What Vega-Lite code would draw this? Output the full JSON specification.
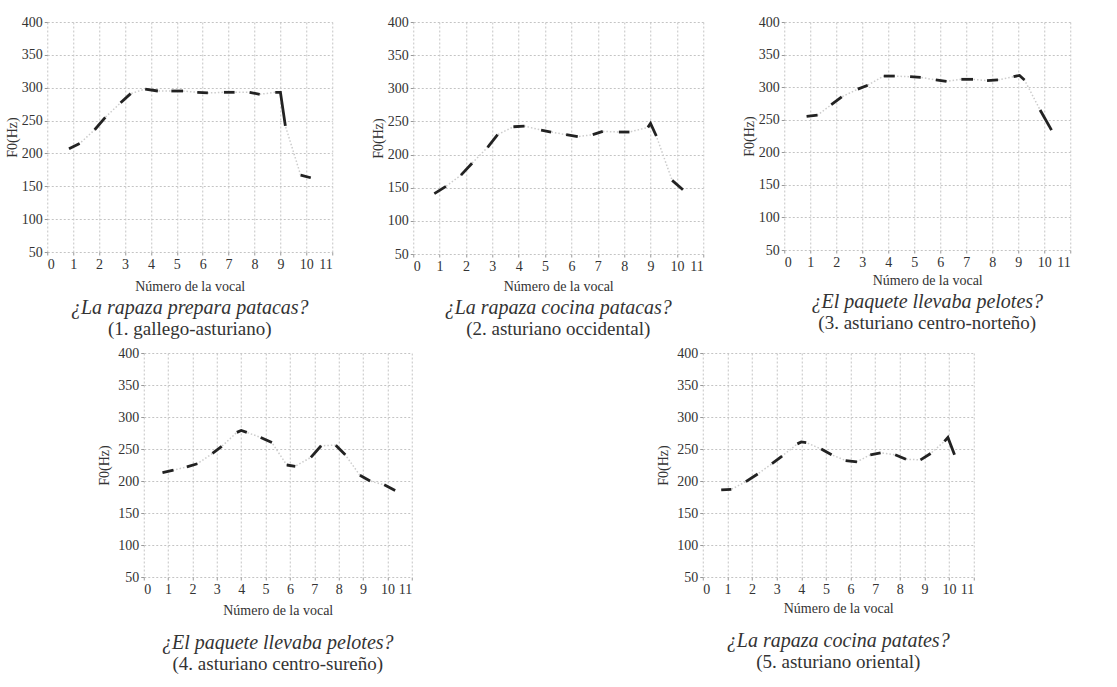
{
  "$schema": "https://vega.github.io/schema/vega-lite/v6.json",
  "background": "white",
  "padding": {"left": 5, "top": 15, "right": 5, "bottom": 5},
  "config": {
    "font": "Liberation Serif",
    "view": {"stroke": null},
    "axis": {
      "labelFont": "Liberation Serif", "labelFontSize": 14, "labelColor": "#333",
      "titleFont": "Liberation Serif", "titleFontSize": 14, "titleFontWeight": "normal", "titleColor": "#333",
      "grid": true, "gridColor": "#c4c4c4", "gridDash": [2, 2], "gridWidth": 1,
      "domain": false, "ticks": true, "tickSize": 3, "tickColor": "#999",
      "labelPadding": 2, "titlePadding": 2
    },
    "axisX": {"titlePadding": 8},
    "title": {
      "font": "Liberation Serif", "fontSize": 20, "fontStyle": "italic", "fontWeight": "normal", "color": "#333",
      "subtitleFont": "Liberation Serif", "subtitleFontSize": 19, "subtitleColor": "#333", "subtitlePadding": 2,
      "orient": "bottom", "anchor": "middle", "frame": "group", "offset": 5
    },
    "concat": {"spacing": 38}
  },
  "datasets": {
    "f0": [
      {"p": 1, "v": 1, "o": 1, "x": 0.84, "f0": 207}, {"p": 1, "v": 1, "o": 2, "x": 1.25, "f0": 215},
      {"p": 1, "v": 2, "o": 3, "x": 1.83, "f0": 236}, {"p": 1, "v": 2, "o": 4, "x": 2.24, "f0": 255},
      {"p": 1, "v": 3, "o": 5, "x": 2.83, "f0": 277}, {"p": 1, "v": 3, "o": 6, "x": 3.22, "f0": 291},
      {"p": 1, "v": 4, "o": 7, "x": 3.78, "f0": 298}, {"p": 1, "v": 4, "o": 8, "x": 4.27, "f0": 295},
      {"p": 1, "v": 5, "o": 9, "x": 4.79, "f0": 295}, {"p": 1, "v": 5, "o": 10, "x": 5.24, "f0": 295},
      {"p": 1, "v": 6, "o": 11, "x": 5.79, "f0": 293}, {"p": 1, "v": 6, "o": 12, "x": 6.2, "f0": 292},
      {"p": 1, "v": 7, "o": 13, "x": 6.82, "f0": 293}, {"p": 1, "v": 7, "o": 14, "x": 7.23, "f0": 293},
      {"p": 1, "v": 8, "o": 15, "x": 7.81, "f0": 293}, {"p": 1, "v": 8, "o": 16, "x": 8.2, "f0": 290},
      {"p": 1, "v": 9, "o": 17, "x": 8.8, "f0": 293}, {"p": 1, "v": 9, "o": 18, "x": 9.0, "f0": 293}, {"p": 1, "v": 9, "o": 19, "x": 9.19, "f0": 242},
      {"p": 1, "v": 10, "o": 20, "x": 9.78, "f0": 167}, {"p": 1, "v": 10, "o": 21, "x": 10.17, "f0": 163},

      {"p": 2, "v": 1, "o": 1, "x": 0.8, "f0": 141}, {"p": 2, "v": 1, "o": 2, "x": 1.24, "f0": 152},
      {"p": 2, "v": 2, "o": 3, "x": 1.81, "f0": 169}, {"p": 2, "v": 2, "o": 4, "x": 2.23, "f0": 187},
      {"p": 2, "v": 3, "o": 5, "x": 2.82, "f0": 211}, {"p": 2, "v": 3, "o": 6, "x": 3.2, "f0": 230},
      {"p": 2, "v": 4, "o": 7, "x": 3.8, "f0": 242}, {"p": 2, "v": 4, "o": 8, "x": 4.22, "f0": 243},
      {"p": 2, "v": 5, "o": 9, "x": 4.85, "f0": 237}, {"p": 2, "v": 5, "o": 10, "x": 5.23, "f0": 234},
      {"p": 2, "v": 6, "o": 11, "x": 5.8, "f0": 230}, {"p": 2, "v": 6, "o": 12, "x": 6.24, "f0": 227},
      {"p": 2, "v": 7, "o": 13, "x": 6.81, "f0": 230}, {"p": 2, "v": 7, "o": 14, "x": 7.19, "f0": 235},
      {"p": 2, "v": 8, "o": 15, "x": 7.8, "f0": 234}, {"p": 2, "v": 8, "o": 16, "x": 8.2, "f0": 234},
      {"p": 2, "v": 9, "o": 17, "x": 8.9, "f0": 241}, {"p": 2, "v": 9, "o": 18, "x": 9.0, "f0": 247}, {"p": 2, "v": 9, "o": 19, "x": 9.22, "f0": 228},
      {"p": 2, "v": 10, "o": 20, "x": 9.82, "f0": 161}, {"p": 2, "v": 10, "o": 21, "x": 10.23, "f0": 147},

      {"p": 3, "v": 1, "o": 1, "x": 0.86, "f0": 255}, {"p": 3, "v": 1, "o": 2, "x": 1.28, "f0": 257},
      {"p": 3, "v": 2, "o": 3, "x": 1.81, "f0": 273}, {"p": 3, "v": 2, "o": 4, "x": 2.21, "f0": 285},
      {"p": 3, "v": 3, "o": 5, "x": 2.83, "f0": 297}, {"p": 3, "v": 3, "o": 6, "x": 3.21, "f0": 303},
      {"p": 3, "v": 4, "o": 7, "x": 3.83, "f0": 317}, {"p": 3, "v": 4, "o": 8, "x": 4.25, "f0": 317},
      {"p": 3, "v": 5, "o": 9, "x": 4.84, "f0": 316}, {"p": 3, "v": 5, "o": 10, "x": 5.25, "f0": 315},
      {"p": 3, "v": 6, "o": 11, "x": 5.83, "f0": 311}, {"p": 3, "v": 6, "o": 12, "x": 6.24, "f0": 309},
      {"p": 3, "v": 7, "o": 13, "x": 6.81, "f0": 312}, {"p": 3, "v": 7, "o": 14, "x": 7.26, "f0": 312},
      {"p": 3, "v": 8, "o": 15, "x": 7.8, "f0": 310}, {"p": 3, "v": 8, "o": 16, "x": 8.22, "f0": 311},
      {"p": 3, "v": 9, "o": 17, "x": 8.82, "f0": 316}, {"p": 3, "v": 9, "o": 18, "x": 9.05, "f0": 318}, {"p": 3, "v": 9, "o": 19, "x": 9.24, "f0": 311},
      {"p": 3, "v": 10, "o": 20, "x": 9.84, "f0": 265}, {"p": 3, "v": 10, "o": 21, "x": 10.28, "f0": 234},

      {"p": 4, "v": 1, "o": 1, "x": 0.77, "f0": 213}, {"p": 4, "v": 1, "o": 2, "x": 1.22, "f0": 217},
      {"p": 4, "v": 2, "o": 3, "x": 1.77, "f0": 222}, {"p": 4, "v": 2, "o": 4, "x": 2.2, "f0": 227},
      {"p": 4, "v": 3, "o": 5, "x": 2.82, "f0": 243}, {"p": 4, "v": 3, "o": 6, "x": 3.2, "f0": 254},
      {"p": 4, "v": 4, "o": 7, "x": 3.82, "f0": 276}, {"p": 4, "v": 4, "o": 8, "x": 4.0, "f0": 279}, {"p": 4, "v": 4, "o": 9, "x": 4.23, "f0": 276},
      {"p": 4, "v": 5, "o": 10, "x": 4.8, "f0": 268}, {"p": 4, "v": 5, "o": 11, "x": 5.26, "f0": 260},
      {"p": 4, "v": 6, "o": 12, "x": 5.87, "f0": 225}, {"p": 4, "v": 6, "o": 13, "x": 6.22, "f0": 223},
      {"p": 4, "v": 7, "o": 14, "x": 6.86, "f0": 237}, {"p": 4, "v": 7, "o": 15, "x": 7.28, "f0": 255},
      {"p": 4, "v": 8, "o": 16, "x": 7.88, "f0": 256}, {"p": 4, "v": 8, "o": 17, "x": 8.27, "f0": 241},
      {"p": 4, "v": 9, "o": 18, "x": 8.87, "f0": 209}, {"p": 4, "v": 9, "o": 19, "x": 9.29, "f0": 200},
      {"p": 4, "v": 10, "o": 20, "x": 9.87, "f0": 194}, {"p": 4, "v": 10, "o": 21, "x": 10.32, "f0": 185},

      {"p": 5, "v": 1, "o": 1, "x": 0.75, "f0": 186}, {"p": 5, "v": 1, "o": 2, "x": 1.16, "f0": 187},
      {"p": 5, "v": 2, "o": 3, "x": 1.75, "f0": 199}, {"p": 5, "v": 2, "o": 4, "x": 2.23, "f0": 211},
      {"p": 5, "v": 3, "o": 5, "x": 2.81, "f0": 227}, {"p": 5, "v": 3, "o": 6, "x": 3.22, "f0": 239},
      {"p": 5, "v": 4, "o": 7, "x": 3.84, "f0": 258}, {"p": 5, "v": 4, "o": 8, "x": 4.0, "f0": 261}, {"p": 5, "v": 4, "o": 9, "x": 4.2, "f0": 260},
      {"p": 5, "v": 5, "o": 10, "x": 4.81, "f0": 250}, {"p": 5, "v": 5, "o": 11, "x": 5.23, "f0": 241},
      {"p": 5, "v": 6, "o": 12, "x": 5.8, "f0": 232}, {"p": 5, "v": 6, "o": 13, "x": 6.26, "f0": 230},
      {"p": 5, "v": 7, "o": 14, "x": 6.8, "f0": 241}, {"p": 5, "v": 7, "o": 15, "x": 7.22, "f0": 244},
      {"p": 5, "v": 8, "o": 16, "x": 7.81, "f0": 241}, {"p": 5, "v": 8, "o": 17, "x": 8.25, "f0": 234},
      {"p": 5, "v": 9, "o": 18, "x": 8.84, "f0": 233}, {"p": 5, "v": 9, "o": 19, "x": 9.25, "f0": 243},
      {"p": 5, "v": 10, "o": 20, "x": 9.81, "f0": 262}, {"p": 5, "v": 10, "o": 21, "x": 9.95, "f0": 268}, {"p": 5, "v": 10, "o": 22, "x": 10.22, "f0": 241}
    ]
  },
  "vconcat": [
    {
      "hconcat": [
        {
          "width": 285, "height": 230,
          "title": {"text": "¿La rapaza prepara patacas?", "subtitle": "(1. gallego-asturiano)", "subtitleFont": "Liberation Serif"},
          "data": {"name": "f0"},
          "transform": [{"filter": "datum.p == 1"}],
          "encoding": {
            "x": {"field": "x", "type": "quantitative", "scale": {"domain": [0, 11], "nice": false}, "axis": {"title": "Número de la vocal", "values": [0,1,2,3,4,5,6,7,8,9,10,11], "labelFont": "Liberation Serif", "titleFont": "Liberation Serif"}},
            "y": {"field": "f0", "type": "quantitative", "scale": {"domain": [50, 400], "nice": false, "zero": false}, "axis": {"title": "F0(Hz)", "values": [50,100,150,200,250,300,350,400], "labelFont": "Liberation Serif", "titleFont": "Liberation Serif"}},
            "order": {"field": "o", "type": "quantitative"}
          },
          "layer": [
            {"mark": {"type": "line", "color": "#cccccc", "strokeWidth": 1.5, "strokeDash": [1.5, 2]}},
            {"mark": {"type": "line", "color": "#222", "strokeWidth": 2.8}, "encoding": {"detail": {"field": "v", "type": "nominal"}}}
          ]
        },
        {
          "width": 290, "height": 232,
          "title": {"text": "¿La rapaza cocina patacas?", "subtitle": "(2. asturiano occidental)", "subtitleFont": "Liberation Serif"},
          "data": {"name": "f0"},
          "transform": [{"filter": "datum.p == 2"}],
          "encoding": {
            "x": {"field": "x", "type": "quantitative", "scale": {"domain": [0, 11], "nice": false}, "axis": {"title": "Número de la vocal", "values": [0,1,2,3,4,5,6,7,8,9,10,11], "labelFont": "Liberation Serif", "titleFont": "Liberation Serif", "titlePadding": 6}},
            "y": {"field": "f0", "type": "quantitative", "scale": {"domain": [50, 400], "nice": false, "zero": false}, "axis": {"title": "F0(Hz)", "values": [50,100,150,200,250,300,350,400], "labelFont": "Liberation Serif", "titleFont": "Liberation Serif"}},
            "order": {"field": "o", "type": "quantitative"}
          },
          "layer": [
            {"mark": {"type": "line", "color": "#cccccc", "strokeWidth": 1.5, "strokeDash": [1.5, 2]}},
            {"mark": {"type": "line", "color": "#222", "strokeWidth": 2.8}, "encoding": {"detail": {"field": "v", "type": "nominal"}}}
          ]
        },
        {
          "width": 286, "height": 228,
          "title": {"text": "¿El paquete llevaba pelotes?", "subtitle": "(3. asturiano centro-norteño)", "subtitleFont": "Liberation Serif"},
          "data": {"name": "f0"},
          "transform": [{"filter": "datum.p == 3"}],
          "encoding": {
            "x": {"field": "x", "type": "quantitative", "scale": {"domain": [0, 11], "nice": false}, "axis": {"title": "Número de la vocal", "values": [0,1,2,3,4,5,6,7,8,9,10,11], "labelFont": "Liberation Serif", "titleFont": "Liberation Serif", "titlePadding": 4}},
            "y": {"field": "f0", "type": "quantitative", "scale": {"domain": [50, 400], "nice": false, "zero": false}, "axis": {"title": "F0(Hz)", "values": [50,100,150,200,250,300,350,400], "labelFont": "Liberation Serif", "titleFont": "Liberation Serif"}},
            "order": {"field": "o", "type": "quantitative"}
          },
          "layer": [
            {"mark": {"type": "line", "color": "#cccccc", "strokeWidth": 1.5, "strokeDash": [1.5, 2]}},
            {"mark": {"type": "line", "color": "#222", "strokeWidth": 2.8}, "encoding": {"detail": {"field": "v", "type": "nominal"}}}
          ]
        }
      ]
    },
    {
      "spacing": 244,
      "hconcat": [
        {
          "width": 268, "height": 224,
          "title": {"text": "¿El paquete llevaba pelotes?", "subtitle": "(4. asturiano centro-sureño)", "subtitleFont": "Liberation Serif", "offset": 16},
          "data": {"name": "f0"},
          "transform": [{"filter": "datum.p == 4"}],
          "encoding": {
            "x": {"field": "x", "type": "quantitative", "scale": {"domain": [0, 11], "nice": false}, "axis": {"title": "Número de la vocal", "values": [0,1,2,3,4,5,6,7,8,9,10,11], "labelFont": "Liberation Serif", "titleFont": "Liberation Serif", "titlePadding": 7}},
            "y": {"field": "f0", "type": "quantitative", "scale": {"domain": [50, 400], "nice": false, "zero": false}, "axis": {"title": "F0(Hz)", "values": [50,100,150,200,250,300,350,400], "labelFont": "Liberation Serif", "titleFont": "Liberation Serif", "titlePadding": 6}},
            "order": {"field": "o", "type": "quantitative"}
          },
          "layer": [
            {"mark": {"type": "line", "color": "#cccccc", "strokeWidth": 1.5, "strokeDash": [1.5, 2]}},
            {"mark": {"type": "line", "color": "#222", "strokeWidth": 2.8}, "encoding": {"detail": {"field": "v", "type": "nominal"}}}
          ]
        },
        {
          "width": 271, "height": 224,
          "title": {"text": "¿La rapaza cocina patates?", "subtitle": "(5. asturiano oriental)", "subtitleFont": "Liberation Serif", "offset": 16},
          "data": {"name": "f0"},
          "transform": [{"filter": "datum.p == 5"}],
          "encoding": {
            "x": {"field": "x", "type": "quantitative", "scale": {"domain": [0, 11], "nice": false}, "axis": {"title": "Número de la vocal", "values": [0,1,2,3,4,5,6,7,8,9,10,11], "labelFont": "Liberation Serif", "titleFont": "Liberation Serif", "titlePadding": 5}},
            "y": {"field": "f0", "type": "quantitative", "scale": {"domain": [50, 400], "nice": false, "zero": false}, "axis": {"title": "F0(Hz)", "values": [50,100,150,200,250,300,350,400], "labelFont": "Liberation Serif", "titleFont": "Liberation Serif", "titlePadding": 6}},
            "order": {"field": "o", "type": "quantitative"}
          },
          "layer": [
            {"mark": {"type": "line", "color": "#cccccc", "strokeWidth": 1.5, "strokeDash": [1.5, 2]}},
            {"mark": {"type": "line", "color": "#222", "strokeWidth": 2.8}, "encoding": {"detail": {"field": "v", "type": "nominal"}}}
          ]
        }
      ]
    }
  ],
  "spacing": 7,
  "center": true
}
